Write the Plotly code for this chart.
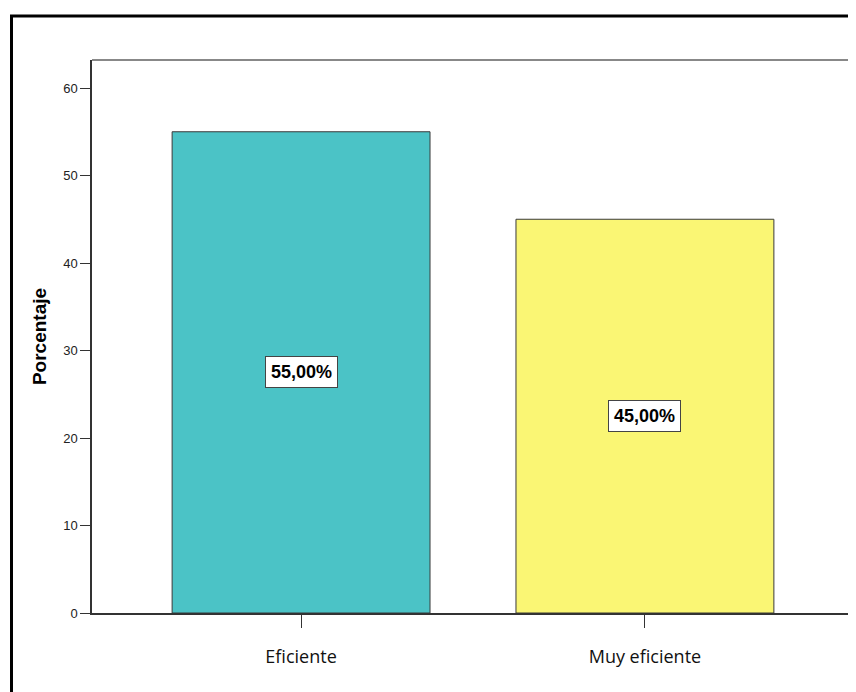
import plotly.graph_objects as go

categories = ["Eficiente", "Muy eficiente"]
values = [55.0, 45.0]
labels = ["55,00%", "45,00%"]
colors = ["#4BC3C6", "#FAF674"]
y_ticks = [0, 10, 20, 30, 40, 50, 60]

# page body has an 8px margin, so the figure is sized/offset accordingly
W, H = 848, 684
L, R, T, B = 84, 2, 52, 79
pw, ph = W - L - R, H - T - B

fig = go.Figure()
fig.add_trace(go.Bar(
    x=[0, 1], y=values, width=0.75,
    marker=dict(color=colors, line=dict(color="#3a3a3a", width=1)),
    hoverinfo="skip",
))

for i, (v, lab) in enumerate(zip(values, labels)):
    fig.add_annotation(
        x=i, y=v / 2, text="<b>" + lab + "</b>", showarrow=False,
        font=dict(family="Liberation Sans, Arial", size=18, color="#000"),
        bgcolor="white", bordercolor="#444", borderwidth=1, borderpad=5,
    )

# outer black frame
fig.add_shape(type="rect", xref="paper", yref="paper",
              x0=(3.5 - L) / pw, x1=(W + 30 - L) / pw,
              y0=(T + ph - (H + 30)) / ph, y1=(T + ph - 8) / ph,
              line=dict(color="black", width=3), layer="below")
# grey top/right plot border
fig.add_shape(type="line", xref="paper", yref="paper", x0=0, x1=1, y0=1, y1=1,
              line=dict(color="#888", width=2))
fig.add_shape(type="line", xref="paper", yref="paper", x0=1, x1=1, y0=0, y1=1,
              line=dict(color="#777", width=2))

fig.update_layout(
    width=W, height=H,
    margin=dict(l=L, r=R, t=T, b=B),
    paper_bgcolor="white", plot_bgcolor="white",
    showlegend=False,
    xaxis=dict(
        range=[-0.608, 1.608], tickmode="array", tickvals=[0, 1], ticktext=categories,
        ticks="outside", ticklen=13, tickcolor="#333", tickwidth=1,
        ticklabelstandoff=14,
        showline=True, linecolor="#333", linewidth=1.5, showgrid=False, zeroline=False,
        tickfont=dict(family="Open Sans, Liberation Sans", size=18, color="#111"),
        fixedrange=True,
    ),
    yaxis=dict(
        range=[0, 63.2], tickmode="array", tickvals=y_ticks,
        ticks="outside", ticklen=10, tickcolor="#333", tickwidth=1,
        showline=True, linecolor="#333", linewidth=1.5, showgrid=False, zeroline=False,
        tickfont=dict(family="Liberation Sans, Arial", size=13, color="#222"),
        title=dict(text="<b>Porcentaje</b>", standoff=12,
                   font=dict(family="Liberation Sans, Arial", size=19, color="#000")),
        fixedrange=True,
    ),
)

fig.write_html("out.html")
